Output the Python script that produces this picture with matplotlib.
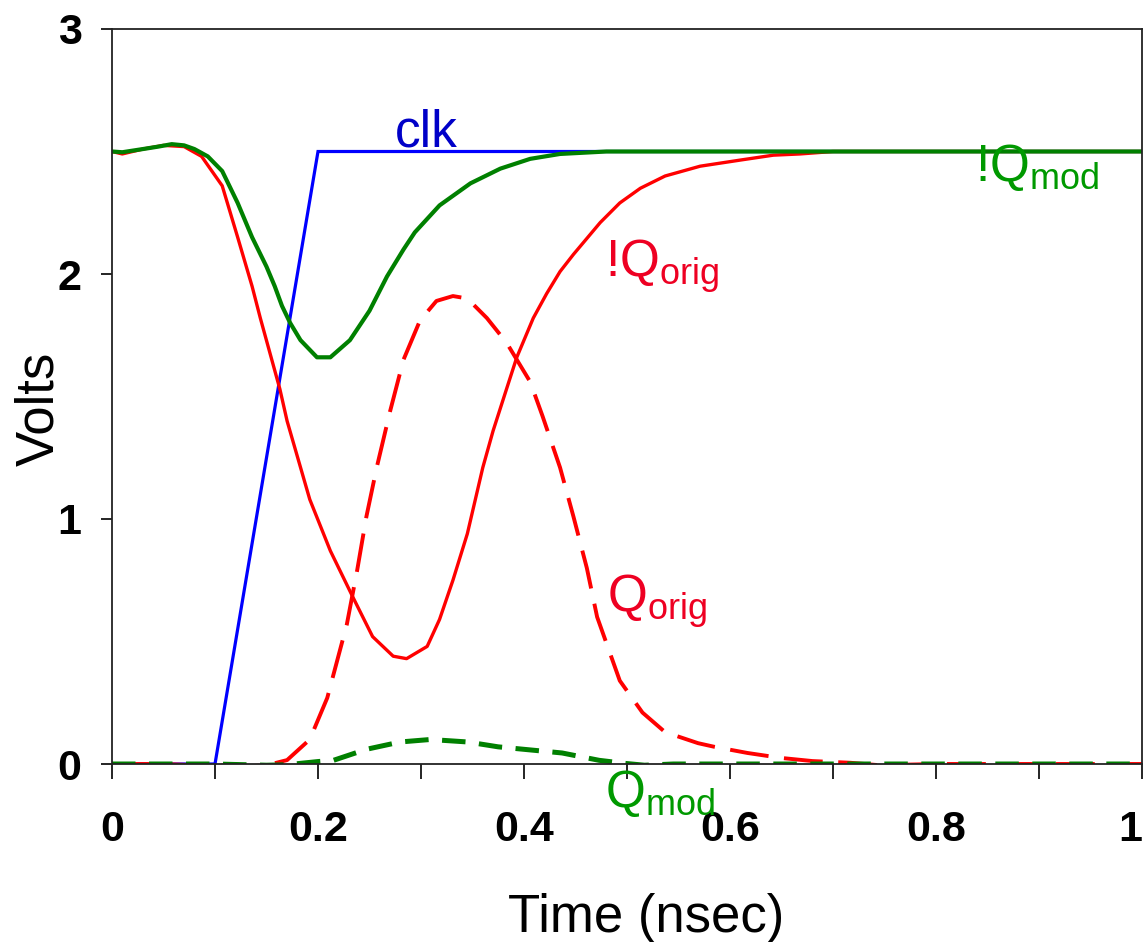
import matplotlib
matplotlib.use("Agg")
import matplotlib.pyplot as plt

# ---- data ----
clk_t = [0.0, 0.1, 0.2, 1.0]
clk_v = [0.0, 0.0, 2.5, 2.5]

nq_orig_t = [0.0, 0.01, 0.03, 0.05, 0.07, 0.087, 0.107, 0.122, 0.136, 0.144, 0.163,
             0.170, 0.192, 0.212, 0.234, 0.253, 0.273, 0.286, 0.306, 0.318, 0.331, 0.345,
             0.360, 0.370, 0.383, 0.393, 0.409, 0.422, 0.435, 0.448, 0.474, 0.493, 0.513,
             0.537, 0.571, 0.61, 0.642, 0.668, 0.70, 1.0]
nq_orig_v = [2.5, 2.49, 2.51, 2.525, 2.52, 2.48, 2.36, 2.15, 1.95, 1.82, 1.53,
             1.40, 1.08, 0.87, 0.68, 0.52, 0.44, 0.43, 0.48, 0.59, 0.75, 0.94,
             1.21, 1.36, 1.53, 1.66, 1.82, 1.92, 2.01, 2.08, 2.21, 2.29, 2.35,
             2.40, 2.44, 2.465, 2.485, 2.49, 2.50, 2.50]

nq_mod_t = [0.0, 0.01, 0.03, 0.045, 0.058, 0.07, 0.08, 0.093, 0.107, 0.122, 0.136, 0.150,
            0.158, 0.165, 0.173, 0.183, 0.199, 0.212, 0.231, 0.25, 0.267, 0.283, 0.294,
            0.318, 0.348, 0.377, 0.406, 0.435, 0.48, 1.0]
nq_mod_v = [2.5, 2.497, 2.51, 2.52, 2.53, 2.525, 2.51, 2.48, 2.42, 2.29, 2.15, 2.03,
            1.95, 1.87, 1.80, 1.73, 1.66, 1.66, 1.73, 1.85, 1.99, 2.10, 2.17,
            2.28, 2.37, 2.43, 2.47, 2.49, 2.50, 2.50]

q_orig_t = [0.0, 0.05, 0.08, 0.1, 0.13, 0.15, 0.17, 0.192, 0.209, 0.228, 0.238, 0.247,
            0.257, 0.27, 0.283, 0.299, 0.315, 0.331, 0.345, 0.364, 0.383, 0.406, 0.418,
            0.435, 0.448, 0.461, 0.471, 0.482, 0.493, 0.515, 0.537, 0.569, 0.585, 0.617,
            0.649, 0.68, 0.717, 0.745, 0.8, 1.0]
q_orig_v = [0.0, 0.0, -0.005, -0.005, -0.01, -0.005, 0.016, 0.1, 0.27, 0.57, 0.79, 1.01,
            1.21, 1.44, 1.65, 1.81, 1.89, 1.91, 1.90, 1.82, 1.72, 1.56, 1.42,
            1.21, 1.01, 0.80, 0.60, 0.47, 0.34, 0.21, 0.13, 0.085, 0.07, 0.045,
            0.025, 0.012, 0.005, -0.005, 0.0, 0.0]

q_mod_t = [0.0, 0.1, 0.15, 0.17, 0.2, 0.215, 0.247, 0.28, 0.309, 0.345, 0.375, 0.437,
           0.473, 0.497, 0.517, 0.545, 1.0]
q_mod_v = [0.0, 0.0, -0.005, -0.003, 0.01, 0.015, 0.06, 0.09, 0.10, 0.09, 0.07, 0.045,
           0.015, 0.003, -0.005, 0.0, 0.0]

x_ticks = [0.0, 0.1, 0.2, 0.3, 0.4, 0.5, 0.6, 0.7, 0.8, 0.9, 1.0]
x_ticklabels = ["0", "", "0.2", "", "0.4", "", "0.6", "", "0.8", "", "1"]
y_ticks = [0, 1, 2, 3]
y_ticklabels = ["0", "1", "2", "3"]

# ---- figure ----
fig = plt.figure(figsize=(11.46, 9.42), dpi=100)
ax = fig.add_axes([112 / 1146, 178 / 942, 1030 / 1146, 735 / 942])

ax.plot(clk_t, clk_v, color="#0000FF", lw=2.3, solid_joinstyle="miter")
ax.plot(nq_orig_t, nq_orig_v, color="#FF0000", lw=2.4)
ax.plot(q_orig_t, q_orig_v, color="#FF0000", lw=2.8, linestyle=(0, (10, 4)))
ax.plot(nq_mod_t, nq_mod_v, color="#008000", lw=3.0)
ax.plot(q_mod_t, q_mod_v, color="#008000", lw=3.6, linestyle=(0, (4.7, 2.7)))

ax.set_xlim(0, 1)
ax.set_ylim(0, 3)

tick_font = dict(family=["Liberation Sans", "DejaVu Sans"], weight="bold", size=31)
ax.set_xticks(x_ticks)
ax.set_xticklabels(x_ticklabels, fontdict=tick_font)
ax.set_yticks(y_ticks)
ax.set_yticklabels(y_ticklabels, fontdict=tick_font)
ax.tick_params(axis="x", direction="out", length=11, width=1.2, pad=22, colors="black")
ax.tick_params(axis="y", direction="out", length=8, width=1.2, pad=14, colors="black")
ax.get_xticklabels()[-1].set_horizontalalignment("right")

for s in ax.spines.values():
    s.set_linewidth(1.3)
    s.set_color("#222222")

label_font = ["Liberation Sans", "DejaVu Sans"]
ax.text(0.519, -0.2286, "Time (nsec)", transform=ax.transAxes, family=label_font,
        fontsize=38, ha="center", va="baseline")
ax.text(-0.057, 0.483, "Volts", transform=ax.transAxes, family=label_font,
        fontsize=38, ha="center", va="baseline", rotation=90, rotation_mode="anchor")

txt_font = ["Liberation Sans", "DejaVu Sans"]
ax.text(0.275, 2.52, "clk", color="#0000C8", fontsize=37, family=txt_font,
        ha="left", va="baseline")
ax.text(0.838, 2.38, r"!Q$_{\mathregular{mod}}$", color="#009900", fontsize=37,
        family=txt_font, ha="left", va="baseline")
ax.text(0.479, 1.99, r"!Q$_{\mathregular{orig}}$", color="#EE0022", fontsize=37,
        family=txt_font, ha="left", va="baseline")
ax.text(0.481, 0.62, r"Q$_{\mathregular{orig}}$", color="#EE0022", fontsize=37,
        family=txt_font, ha="left", va="baseline")
ax.text(0.479, -0.175, r"Q$_{\mathregular{mod}}$", color="#009900", fontsize=37,
        family=txt_font, ha="left", va="baseline", clip_on=False)

fig.savefig("out.png", dpi=100)
